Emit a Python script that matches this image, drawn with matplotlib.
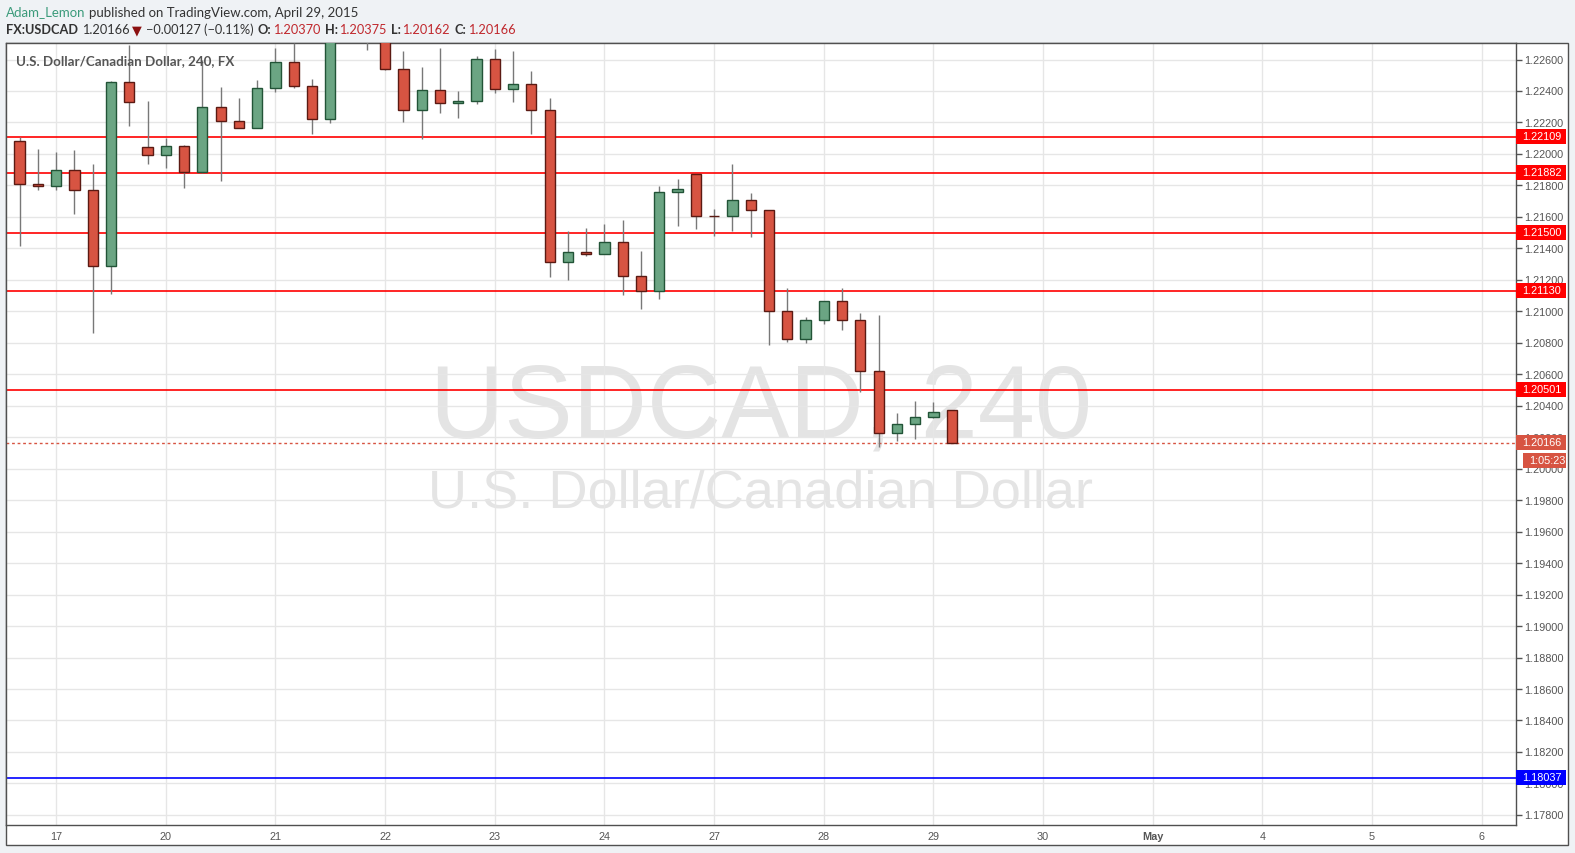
import matplotlib
matplotlib.use('Agg')
import matplotlib.pyplot as plt
import matplotlib.transforms as mtransforms
from matplotlib.patches import Rectangle
from matplotlib.ticker import MultipleLocator, FormatStrFormatter
import numpy as np

# USDCAD 4h candles, Apr 16 (16:00) .. Apr 29 (04:00)
opens = [1.22083, 1.21810, 1.21797, 1.21899, 1.21772, 1.21288, 1.22458, 1.22045,
         1.21994, 1.22051, 1.21886, 1.22299, 1.22210, 1.22166, 1.22420, 1.22585,
         1.22433, 1.22223, 1.22760, 1.22810, 1.22740, 1.22541, 1.22280, 1.22407,
         1.22325, 1.22337, 1.22604, 1.22414, 1.22446, 1.22280, 1.21314, 1.21377,
         1.21365, 1.21441, 1.21225, 1.21129, 1.21759, 1.21873, 1.21606, 1.21605,
         1.21708, 1.21644, 1.21002, 1.20824, 1.20945, 1.21066, 1.20945, 1.20621,
         1.20227, 1.20284, 1.20328, 1.20370]
highs = [1.22106, 1.22034, 1.22015, 1.22028, 1.21939, 1.22465, 1.22695, 1.22339,
         1.22100, 1.22058, 1.22600, 1.22428, 1.22358, 1.22473, 1.22676, 1.22702,
         1.22477, 1.22800, 1.22850, 1.22840, 1.22780, 1.22651, 1.22555, 1.22676,
         1.22401, 1.22625, 1.22670, 1.22657, 1.22530, 1.22358, 1.21511, 1.21530,
         1.21555, 1.21581, 1.21384, 1.21797, 1.21842, 1.21873, 1.21651, 1.21939,
         1.21752, 1.21644, 1.21150, 1.20966, 1.21066, 1.21150, 1.20990, 1.20974,
         1.20354, 1.20432, 1.20424, 1.20375]
lows = [1.21413, 1.21769, 1.21769, 1.21616, 1.20860, 1.21108, 1.22176, 1.21934,
        1.21909, 1.21782, 1.21880, 1.21826, 1.22166, 1.22166, 1.22395, 1.22420,
        1.22128, 1.22198, 1.22720, 1.22659, 1.22532, 1.22201, 1.22096, 1.22259,
        1.22227, 1.22318, 1.22386, 1.22331, 1.22125, 1.21216, 1.21197, 1.21349,
        1.21365, 1.21101, 1.21012, 1.21076, 1.21540, 1.21524, 1.21477, 1.21508,
        1.21470, 1.20784, 1.20803, 1.20796, 1.20917, 1.20879, 1.20487, 1.20138,
        1.20173, 1.20186, 1.20320, 1.20162]
closes = [1.21810, 1.21797, 1.21899, 1.21772, 1.21288, 1.22458, 1.22331, 1.21994,
          1.22051, 1.21886, 1.22299, 1.22210, 1.22166, 1.22420, 1.22585, 1.22433,
          1.22223, 1.22760, 1.22810, 1.22740, 1.22541, 1.22280, 1.22407, 1.22325,
          1.22337, 1.22604, 1.22414, 1.22446, 1.22280, 1.21314, 1.21377, 1.21365,
          1.21441, 1.21225, 1.21129, 1.21759, 1.21778, 1.21606, 1.21604, 1.21708,
          1.21644, 1.21002, 1.20824, 1.20945, 1.21066, 1.20945, 1.20621, 1.20227,
          1.20284, 1.20328, 1.20360, 1.20166]

day_labels = ['17', '20', '21', '22', '23', '24', '27', '28', '29', '30', 'May', '4', '5', '6']
first_day_bar = 2
bars_per_day = 6

red_levels = [1.22109, 1.21882, 1.21500, 1.21130, 1.20501]
blue_levels = [1.18037]
last_price = 1.20166
countdown = '1:05:23'

W, H = 1575, 853
fig = plt.figure(figsize=(15.75, 8.535), dpi=100)
fig.patch.set_facecolor('#eff2f5')

# white chart panel with frame
fig.add_artist(Rectangle((6 / W, 1 - 845 / H), (1568 - 6) / W, (845 - 43) / H,
                         transform=fig.transFigure, fc='white', ec='#505050', lw=1, zorder=-1))

ax = fig.add_axes([6 / W, 1 - 825 / H, (1516 - 6) / W, (825 - 43) / H])
ax.set_facecolor('white')
ymin, ymax = 1.17736, 1.22708
ax.set_xlim(-0.744, 81.87)
ax.set_ylim(ymin, ymax)

x = np.arange(len(opens))
o = np.array(opens)
c = np.array(closes)
up = c >= o
body_lo = np.minimum(o, c)
body_h = np.maximum(np.abs(c - o), 0.00001)

ax.vlines(x, lows, highs, color='#787878', lw=1, zorder=3)
ax.bar(x[up], body_h[up], bottom=body_lo[up], width=0.56, color='#6ba583',
       edgecolor='#225437', lw=1, zorder=4)
ax.bar(x[~up], body_h[~up], bottom=body_lo[~up], width=0.56, color='#d75442',
       edgecolor='#5b1a13', lw=1, zorder=4)

for lvl in red_levels:
    ax.axhline(lvl, color='#ff0000', lw=1.2, zorder=2)
for lvl in blue_levels:
    ax.axhline(lvl, color='#0000ff', lw=1.2, zorder=2)
ax.axhline(last_price, color='#d75442', lw=1, ls=(0, (2, 2)), zorder=2)

# axes
ax.yaxis.tick_right()
ax.yaxis.set_major_locator(MultipleLocator(0.002))
ax.yaxis.set_major_formatter(FormatStrFormatter('%.5f'))
ax.tick_params(axis='y', direction='out', length=4, width=1, color='#555555',
               labelcolor='#555555', labelsize=7.8, pad=2)
ax.set_xticks(first_day_bar + bars_per_day * np.arange(len(day_labels)))
ax.set_xticklabels(day_labels)
ax.tick_params(axis='x', length=0, pad=5, labelsize=7.8, labelcolor='#555555')
for t in ax.get_xticklabels() + ax.get_yticklabels():
    t.set_family(['Liberation Sans', 'DejaVu Sans'])
    if t.get_text() == 'May':
        t.set_fontweight('bold')
ax.grid(True, color='#e6e6e6', lw=1)
ax.set_axisbelow(True)
for sp in ax.spines.values():
    sp.set_color('#505050')
    sp.set_linewidth(1)

# price tags on the right scale
plot_w = 1510.0
pxd = (ymax - ymin) / 782.0
blend = mtransforms.blended_transform_factory(ax.transAxes, ax.transData)


def tag(y, s, fc, x0=0, w=50):
    ax.add_patch(Rectangle((1 + x0 / plot_w, y - 7.5 * pxd), w / plot_w, 15 * pxd,
                           transform=blend, fc=fc, ec='none', clip_on=False, zorder=6))
    ax.text(1 + (x0 + 6) / plot_w, y, s, transform=blend, color='white', fontsize=7.8,
            family=['Liberation Sans', 'DejaVu Sans'], va='center', ha='left',
            zorder=7, clip_on=False)


for lvl in red_levels:
    tag(lvl, '%.5f' % lvl, '#ff0000')
for lvl in blue_levels:
    tag(lvl, '%.5f' % lvl, '#0000ff')
tag(last_price, '%.5f' % last_price, '#d75442')
tag(last_price - 17.5 * pxd, countdown, '#d75442', x0=7, w=43)

# watermark
ax.text(0.5, (825 - 437) / 782, 'USDCAD, 240', transform=ax.transAxes, ha='center',
        va='baseline', fontsize=74, color='#e4e4e4', family='Liberation Sans', zorder=0.2)
ax.text(0.5, (825 - 507) / 782, 'U.S. Dollar/Canadian Dollar', transform=ax.transAxes,
        ha='center', va='baseline', fontsize=39, color='#e4e4e4', family='Liberation Sans',
        zorder=0.2)

# header lines
fam = ['Lato', 'DejaVu Sans']
renderer = fig.canvas.get_renderer()


def header_line(pieces, x_px, y_px, size):
    for s, col, wt, gap in pieces:
        x_px += gap
        t = fig.text(x_px / W, 1 - y_px / H, s, color=col, fontweight=wt, fontsize=size,
                     va='center', ha='left', family=fam)
        x_px = t.get_window_extent(renderer=renderer).x1


dark = '#333333'
valred = '#c0282d'
header_line([('Adam_Lemon', '#3c9b7b', 'normal', 0),
             ('published on TradingView.com, April 29, 2015', dark, 'normal', 3.5)],
            6, 12.5, 9.5)
header_line([('FX:USDCAD', dark, 'bold', 0),
             ('1.20166', dark, 'normal', 4),
             ('\u25bc', '#8b1010', 'normal', 2),
             ('\u22120.00127 (\u22120.11%)', dark, 'normal', 5),
             ('O:', dark, 'bold', 4), ('1.20370', valred, 'normal', 1),
             ('H:', dark, 'bold', 5), ('1.20375', valred, 'normal', 1),
             ('L:', dark, 'bold', 5), ('1.20162', valred, 'normal', 1),
             ('C:', dark, 'bold', 5), ('1.20166', valred, 'normal', 1)],
            6, 30, 9.2)

fig.text(15.7 / W, 1 - 60.7 / H, 'U.S. Dollar/Canadian Dollar, 240, FX', color='#555555',
         fontsize=9.6, fontweight='bold', family=fam, va='center', ha='left')

fig.savefig('out.png', dpi=100, facecolor=fig.get_facecolor())
